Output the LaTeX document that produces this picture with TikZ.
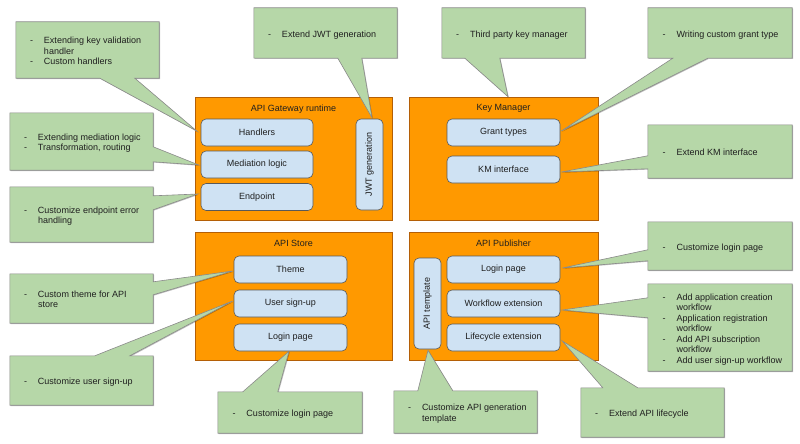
\documentclass[tikz,border=0pt]{standalone}
\usepackage{fontspec}
\setmainfont{Liberation Sans}
\usepackage{array}
\usetikzlibrary{calc,shadows}
\definecolor{orangefill}{HTML}{FF9900}
\definecolor{orangeline}{HTML}{B45F06}
\definecolor{bluefill}{HTML}{CFE2F3}
\definecolor{blueline}{HTML}{595959}
\definecolor{greenfill}{HTML}{B6D7A8}
\definecolor{greenline}{HTML}{8A8A8A}
\definecolor{txt}{HTML}{1F1F1F}
\pgfdeclarelayer{bg}\pgfdeclarelayer{mid}\pgfsetlayers{bg,mid,main}
\hyphenpenalty=10000 \exhyphenpenalty=10000
\newcommand{\ctext}[1]{\raisebox{-2pt}[\height][\depth]{\begin{tabular}{@{\hspace{14pt}}p{14pt}@{}>{\raggedright\arraybackslash}p{108pt}@{\hspace{7pt}}}#1\end{tabular}}}
\newcommand{\ctailB}[4]{\begin{pgfonlayer}{mid}\draw[calloutline] (#1.north west) -- (#1.north east) -- (#1.south east) -- ($(#1.south west)+(#3,0)$) -- (#4) -- ($(#1.south west)+(#2,0)$) -- (#1.south west) -- cycle;\end{pgfonlayer}}
\newcommand{\ctailR}[4]{\begin{pgfonlayer}{mid}\draw[calloutline] (#1.north west) -- (#1.north east) -- ($(#1.north east)+(0,#2)$) -- (#4) -- ($(#1.north east)+(0,#3)$) -- (#1.south east) -- (#1.south west) -- cycle;\end{pgfonlayer}}
\newcommand{\ctailL}[4]{\begin{pgfonlayer}{mid}\draw[calloutline] (#1.north west) -- (#1.north east) -- (#1.south east) -- (#1.south west) -- ($(#1.north west)+(0,#3)$) -- (#4) -- ($(#1.north west)+(0,#2)$) -- cycle;\end{pgfonlayer}}
\newcommand{\ctailT}[4]{\begin{pgfonlayer}{mid}\draw[calloutline] (#1.north west) -- ($(#1.north west)+(#2,0)$) -- (#4) -- ($(#1.north west)+(#3,0)$) -- (#1.north east) -- (#1.south east) -- (#1.south west) -- cycle;\end{pgfonlayer}}
\tikzset{
  every node/.style={font=\fontsize{9}{10.5}\selectfont, text=txt},
  obox/.style={draw=orangeline, fill=orangefill, line width=0.6pt, inner sep=0pt,
    drop shadow={shadow xshift=0.8pt, shadow yshift=-0.8pt, opacity=0.3, fill=black}},
  otitle/.style={inner sep=0pt},
  bbox/.style={draw=blueline, fill=bluefill, rounded corners=5pt, line width=0.6pt, inner sep=0pt,
    minimum width=112, minimum height=27},
  vbox/.style={bbox, minimum width=27, minimum height=91},
  callout/.style={inner sep=0pt, minimum width=143},
  calloutline/.style={draw=greenline, fill=greenfill, line width=0.6pt, line join=miter,
    drop shadow={shadow xshift=0.8pt, shadow yshift=-0.8pt, opacity=0.25, fill=black}}
}
\begin{document}
\begin{tikzpicture}[x=1pt,y=-1pt]
\useasboundingbox (0,0) rectangle (800,444);
% containers
\begin{pgfonlayer}{bg}
\node[obox, minimum width=197, minimum height=123] (gw) at (293.5,158.5) {};
\node[obox, minimum width=189, minimum height=123] (km) at (503.5,158.5) {};
\node[obox, minimum width=197, minimum height=128] (store) at (293.5,296) {};
\node[obox, minimum width=189, minimum height=128] (pub) at (503.5,296) {};
\end{pgfonlayer}
\node[otitle] (gwt) at (293.5,108.7) {API Gateway runtime};
\node[otitle] (kmt) at (503.5,108.7) {Key Manager};
\node[otitle] (storet) at (293.5,243.7) {API Store};
\node[otitle] (pubt) at (503.5,243.7) {API Publisher};
% components
\node[bbox] (handlers) at (257,132.5) {Handlers};
\node[bbox] (mediation) at (257,164.5) {Mediation logic};
\node[bbox] (endpoint) at (257,197) {Endpoint};
\node[vbox] (jwt) at (369.5,164.5) {\rotatebox{90}{JWT generation}};
\node[bbox, minimum width=113] (grant) at (503.5,132.5) {Grant types};
\node[bbox, minimum width=113] (kmi) at (503.5,169.5) {KM interface};
\node[bbox, minimum width=113] (theme) at (290.5,269.5) {Theme};
\node[bbox, minimum width=113] (signup) at (290.5,303.5) {User sign-up};
\node[bbox, minimum width=113] (slogin) at (290.5,337.5) {Login page};
\node[vbox] (tmpl) at (427.5,303.5) {\rotatebox{90}{API template}};
\node[bbox, minimum width=113] (plogin) at (503.5,269.5) {Login page};
\node[bbox, minimum width=113] (wf) at (503.5,303.5) {Workflow extension};
\node[bbox, minimum width=113] (lc) at (503.5,337.5) {Lifecycle extension};
% callouts
\node[callout, minimum height=56] (c1) at (87.5,50) {\ctext{- & Extending key validation handler\\ - & Custom handlers}};
\node[callout, minimum height=50] (c2) at (325.5,33) {\ctext{- & Extend JWT generation}};
\node[callout, minimum height=57] (c3) at (81.5,141.5) {\ctext{- & Extending mediation logic\\ - & Transformation, routing}};
\node[callout, minimum height=55] (c4) at (81.5,214.5) {\ctext{- & Customize endpoint error handling}};
\node[callout, minimum height=50] (c5) at (513.5,33) {\ctext{- & Third party key manager}};
\node[callout, minimum width=144, minimum height=50] (c6) at (720,33) {\ctext{- & Writing custom grant type}};
\node[callout, minimum width=144, minimum height=53] (c7) at (720,151.5) {\ctext{- & Extend KM interface}};
\node[callout, minimum height=49] (c8) at (81.5,298.5) {\ctext{- & Custom theme for API store}};
\node[callout, minimum height=49] (c9) at (81.5,380.5) {\ctext{- & Customize user sign-up}};
\node[callout, minimum width=144, minimum height=41] (c10) at (290,412.5) {\ctext{- & Customize login page}};
\node[callout, minimum width=144, minimum height=48] (c11) at (720,246) {\ctext{- & Customize login page}};
\node[callout, minimum width=144, minimum height=87] (c12) at (720,327.5) {\ctext{- & Add application creation workflow\\ - & Application registration workflow\\ - & Add API subscription workflow\\ - & Add user sign-up workflow}};
\node[callout, minimum height=42] (c13) at (465.5,412) {\ctext{- & Customize API generation template}};
\node[callout, minimum height=49] (c14) at (652.5,412.5) {\ctext{- & Extend API lifecycle}};
% tail tips
\coordinate (t1) at ($(handlers.west)+(-4,-1.5)$);
\coordinate (t2) at ($(jwt.north)+(2.5,-1)$);
\coordinate (t3) at ($(mediation.west)+(-2,0.5)$);
\coordinate (t4) at ($(endpoint.west)+(-3,-3)$);
\coordinate (t5) at ($(km.north)+(4.5,0)$);
\coordinate (t6) at ($(grant.east)+(1,-1.5)$);
\coordinate (t7) at ($(kmi.east)+(1,2.5)$);
\coordinate (t8) at ($(theme.west)+(-1,1.5)$);
\coordinate (t9) at ($(signup.west)+(-1,-2.5)$);
\coordinate (t10) at ($(slogin.south)+(-1.5,0)$);
\coordinate (t11) at ($(plogin.east)+(2,-1.5)$);
\coordinate (t12) at ($(wf.east)+(2,6.5)$);
\coordinate (t13) at ($(tmpl.south)+(0.5,1)$);
\coordinate (t14) at ($(lc.east)+(2,3.5)$);
% callout outlines
\ctailB{c1}{84}{119}{t1}
\ctailB{c2}{84}{108}{t2}
\ctailR{c3}{34}{49}{t3}
\ctailR{c4}{9}{23}{t4}
\ctailB{c5}{23}{58}{t5}
\ctailB{c6}{25}{60}{t6}
\ctailL{c7}{31}{44}{t7}
\ctailR{c8}{8}{21}{t8}
\ctailT{c9}{85}{120}{t9}
\ctailT{c10}{25}{60}{t10}
\ctailL{c11}{28}{39}{t11}
\ctailL{c12}{14}{34}{t12}
\ctailT{c13}{24}{59}{t13}
\ctailT{c14}{22}{57}{t14}
\end{tikzpicture}
\end{document}
